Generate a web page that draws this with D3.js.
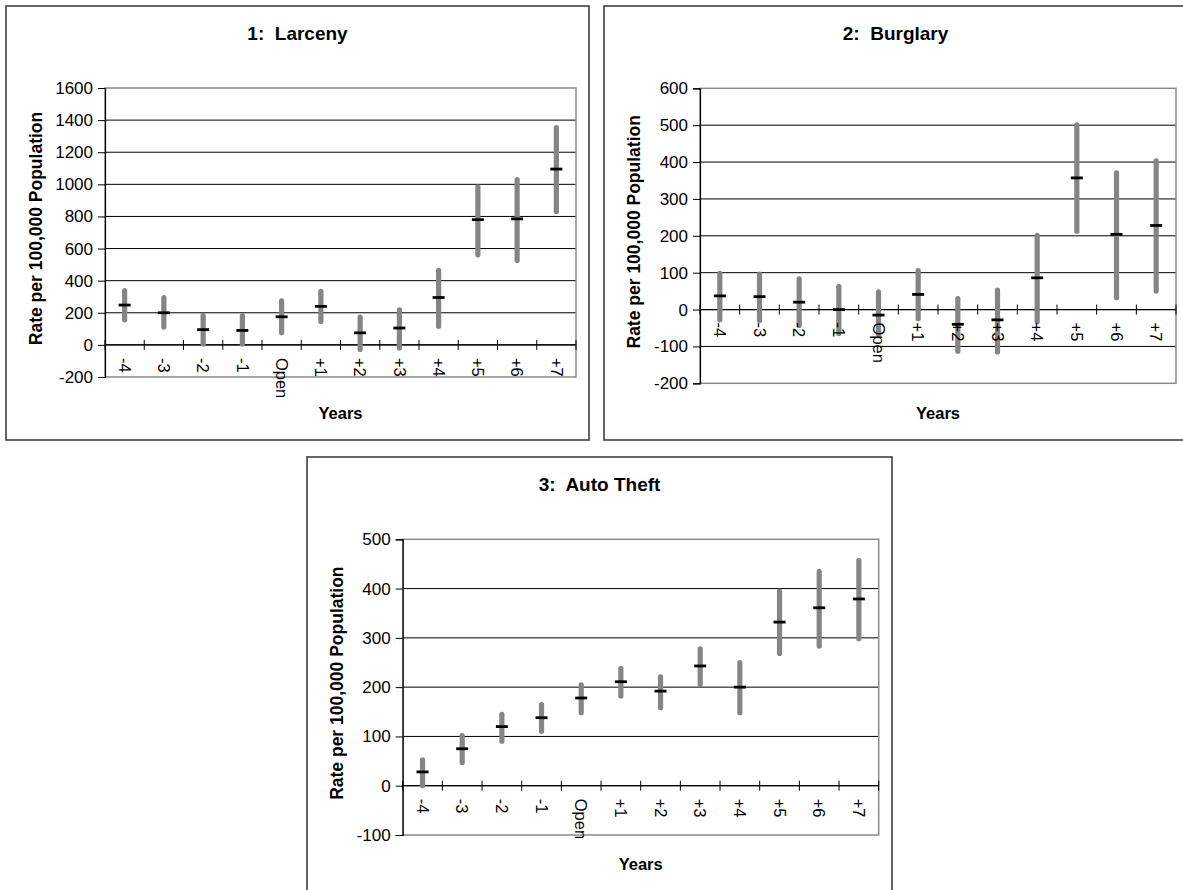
<!DOCTYPE html>
<html>
<head>
<meta charset="utf-8">
<script src="https://cdn.jsdelivr.net/npm/d3@7"></script>
<style>
  body { margin: 0; background: #fff; }
  svg text { font-family: Arial, "Liberation Sans", sans-serif; }
</style>
</head>
<body>
<div id="chart"></div>
<script>
// categories on the x axis (years relative to opening)
const categories = ['-4', '-3', '-2', '-1', 'Open', '+1', '+2', '+3', '+4', '+5', '+6', '+7']

// 1: Larceny
const larcenyLow = [140, 95, -10, -10, 60, 130, -45, -35, 100, 545, 510, 815]
const larcenyHigh = [355, 310, 200, 198, 290, 350, 190, 235, 480, 1000, 1045, 1370]
const larcenyMean = [248, 200, 95, 90, 175, 240, 75, 105, 295, 780, 785, 1095]
const larcenyTicks = [-200, 0, 200, 400, 600, 800, 1000, 1200, 1400, 1600]

// 2: Burglary
const burglaryLow = [-35, -37, -50, -72, -75, -32, -120, -122, -40, 205, 25, 43]
const burglaryHigh = [105, 103, 90, 70, 55, 113, 37, 60, 208, 508, 378, 410]
const burglaryMean = [37, 35, 20, 0, -15, 41, -40, -28, 86, 357, 204, 228]
const burglaryTicks = [-200, -100, 0, 100, 200, 300, 400, 500, 600]

// 3: Auto Theft
const autoLow = [-5, 42, 85, 105, 143, 177, 153, 200, 143, 263, 278, 293]
const autoHigh = [58, 107, 150, 170, 210, 243, 226, 283, 255, 400, 440, 462]
const autoMean = [28, 75, 120, 138, 178, 211, 192, 243, 200, 332, 361, 379]
const autoTicks = [-100, 0, 100, 200, 300, 400, 500]

const W = 1183, H = 890
const svg = d3.select('#chart').append('svg')
  .attr('width', W)
  .attr('height', H)

// 面板配置: 外框 + 绘图区
const panels = [
  { title: '1:  Larceny', low: larcenyLow, high: larcenyHigh, mean: larcenyMean, ticks: larcenyTicks,
    box: [6, 6, 583, 434], plot: [105, 576, 88, 377], titleY: 40, yearsY: 419 },
  { title: '2:  Burglary', low: burglaryLow, high: burglaryHigh, mean: burglaryMean, ticks: burglaryTicks,
    box: [604, 6, 583, 434], plot: [700, 1176, 88.3, 383.3], titleY: 40, yearsY: 419 },
  { title: '3:  Auto Theft', low: autoLow, high: autoHigh, mean: autoMean, ticks: autoTicks,
    box: [307, 457, 585, 434], plot: [402.7, 878.7, 539.3, 835], titleY: 491, yearsY: 870 }
]

const barColor = '#858585'

panels.forEach(p => {
  const [bx, by, bw, bh] = p.box
  const [left, right, top, bottom] = p.plot

  const g = svg.append('g')

  // outer frame
  g.append('rect')
    .attr('x', bx).attr('y', by)
    .attr('width', bw).attr('height', bh)
    .attr('fill', '#fff')
    .attr('stroke', '#333')
    .attr('stroke-width', 1.5)

  const x = d3.scaleBand().domain(categories).range([left, right])
  const y = d3.scaleLinear()
    .domain([d3.min(p.ticks), d3.max(p.ticks)])
    .range([bottom, top])

  // gridlines
  g.append('g')
    .selectAll('line')
    .data(p.ticks.slice(1, -1))
    .enter()
    .append('line')
    .attr('x1', left).attr('x2', right)
    .attr('y1', d => y(d)).attr('y2', d => y(d))
    .attr('stroke', '#000')
    .attr('stroke-width', 1)

  // plot area border (gray)
  g.append('rect')
    .attr('x', left).attr('y', top)
    .attr('width', right - left).attr('height', bottom - top)
    .attr('fill', 'none')
    .attr('stroke', '#8a8a8a')
    .attr('stroke-width', 1.5)

  // y axis, plain hyphen for negatives
  const yAxis = d3.axisLeft(y).tickValues(p.ticks).tickSize(7).tickPadding(5).tickFormat(d => String(d))
  const ya = g.append('g')
    .attr('transform', 'translate(' + left + ',0)')
    .call(yAxis)
  ya.select('.domain').attr('stroke', '#000').attr('stroke-width', 1.2)
  ya.selectAll('text').attr('font-size', 17).attr('fill', '#000')
    .attr('font-family', 'Arial, "Liberation Sans", sans-serif')

  // x axis at zero with crossing ticks
  const y0 = y(0)
  g.append('line')
    .attr('x1', left).attr('x2', right)
    .attr('y1', y0).attr('y2', y0)
    .attr('stroke', '#000')
    .attr('stroke-width', 1.2)
  const bounds = categories.map(c => x(c)).concat([right])
  g.append('g')
    .selectAll('line')
    .data(bounds)
    .enter()
    .append('line')
    .attr('x1', d => d).attr('x2', d => d)
    .attr('y1', y0 - 5).attr('y2', y0 + 5)
    .attr('stroke', '#000')
    .attr('stroke-width', 1)

  // range bars
  const cap = 2.6
  g.append('g')
    .selectAll('line')
    .data(categories)
    .enter()
    .append('line')
    .attr('x1', d => x(d) + x.bandwidth() / 2)
    .attr('x2', d => x(d) + x.bandwidth() / 2)
    .attr('y1', (d, i) => y(p.high[i]) + cap)
    .attr('y2', (d, i) => y(p.low[i]) - cap)
    .attr('stroke', barColor)
    .attr('stroke-width', 5.2)
    .attr('stroke-linecap', 'round')

  // mean markers
  g.append('g')
    .selectAll('line')
    .data(categories)
    .enter()
    .append('line')
    .attr('x1', d => x(d) + x.bandwidth() / 2 - 6)
    .attr('x2', d => x(d) + x.bandwidth() / 2 + 6)
    .attr('y1', (d, i) => y(p.mean[i]))
    .attr('y2', (d, i) => y(p.mean[i]))
    .attr('stroke', '#000')
    .attr('stroke-width', 2.8)

  // category labels rotated
  g.append('g')
    .selectAll('text')
    .data(categories)
    .enter()
    .append('text')
    .attr('transform', d => 'translate(' + (x(d) + x.bandwidth() / 2) + ',' + (y0 + 13) + ') rotate(90)')
    .attr('dy', '0.35em')
    .attr('text-anchor', 'start')
    .attr('font-size', 16.5)
    .attr('fill', '#000')
    .text(d => d)

  // title
  g.append('text')
    .attr('x', bx + bw / 2)
    .attr('y', p.titleY)
    .attr('text-anchor', 'middle')
    .attr('font-size', 19)
    .attr('font-weight', 'bold')
    .attr('xml:space', 'preserve')
    .style('white-space', 'pre')
    .text(p.title)

  // axis titles
  g.append('text')
    .attr('x', (left + right) / 2)
    .attr('y', p.yearsY)
    .attr('text-anchor', 'middle')
    .attr('font-size', 16.5)
    .attr('font-weight', 'bold')
    .text('Years')

  g.append('text')
    .attr('transform', 'translate(' + (bx + 30) + ',' + ((top + bottom) / 2 - 4) + ') rotate(-90)')
    .attr('dy', '0.35em')
    .attr('text-anchor', 'middle')
    .attr('font-size', 17.5)
    .attr('font-weight', 'bold')
    .text('Rate per 100,000 Population')
})
</script>
</body>
</html>
